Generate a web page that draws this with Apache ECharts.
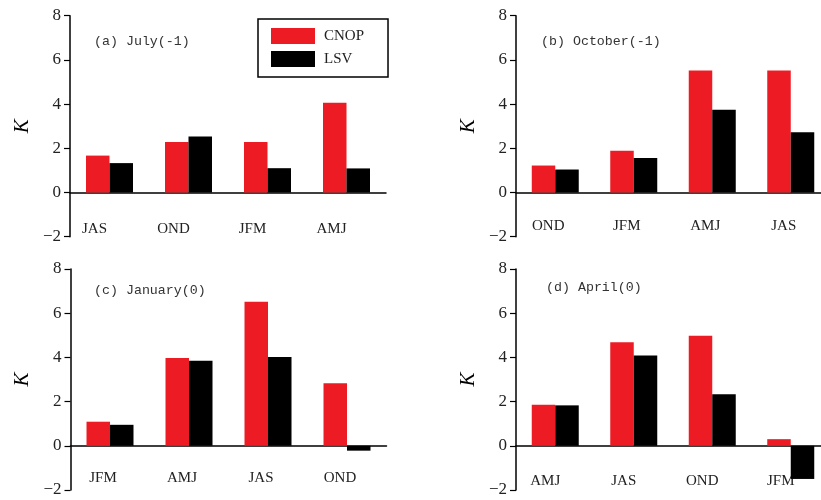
<!DOCTYPE html>
<html>
<head>
<meta charset="utf-8">
<script src="https://cdn.jsdelivr.net/npm/echarts@6/dist/echarts.min.js"></script>
<style>html,body{margin:0;padding:0;background:#fff;}#c{width:821px;height:500px;}</style>
</head>
<body>
<div id="c"></div>
<script>
// Data
const catsA = ['JAS', 'OND', 'JFM', 'AMJ'];
const cnopA = [1.67, 2.28, 2.28, 4.06];
const lsvA  = [1.33, 2.53, 1.10, 1.09];
const catsB = ['OND', 'JFM', 'AMJ', 'JAS'];
const cnopB = [1.22, 1.89, 5.52, 5.52];
const lsvB  = [1.04, 1.56, 3.74, 2.73];
const catsC = ['JFM', 'AMJ', 'JAS', 'OND'];
const cnopC = [1.09, 3.97, 6.52, 2.83];
const lsvC  = [0.95, 3.85, 4.02, -0.22];
const catsD = ['AMJ', 'JAS', 'OND', 'JFM'];
const cnopD = [1.86, 4.68, 4.98, 0.30];
const lsvD  = [1.83, 4.09, 2.33, -1.50];
const panelTitles = ['(a) July(-1)', '(b) October(-1)', '(c) January(0)', '(d) April(0)'];
const seriesNames = ['CNOP', 'LSV'];
const yMin = -2, yMax = 8, yStep = 2;

const panels = [
  {cats: catsA, cnop: cnopA, lsv: lsvA},
  {cats: catsB, cnop: cnopB, lsv: lsvB},
  {cats: catsC, cnop: cnopC, lsv: lsvC},
  {cats: catsD, cnop: cnopD, lsv: lsvD}
];

// Layout (positions kept separate from data)
const GRID_H = 221;
const grids = [
  {left: 70, top: 15.7, width: 316, height: GRID_H, outerBoundsMode: 'none'},
  {left: 516, top: 15.7, width: 314, height: GRID_H, outerBoundsMode: 'none'},
  {left: 70.5, top: 269, width: 316, height: GRID_H, outerBoundsMode: 'none'},
  {left: 516, top: 269, width: 314, height: GRID_H, outerBoundsMode: 'none'}
];
const labelMargin = [29, 26.5, 25, 28];
const labelShift = [15, 7, 7, 10];
const titlePos = [
  {left: 94, top: 35}, {left: 541, top: 35}, {left: 94, top: 284}, {left: 546, top: 281}
];
// x axis sits at value 0: shift it up from the grid bottom by the pixel span of (0 - yMin)
const zeroOffset = -GRID_H * (0 - yMin) / (yMax - yMin);

const RED = '#ED1C24';
const BLACK = '#000000';
const serif = '"Liberation Serif", "Times New Roman", serif';

const xAxes = [], yAxes = [], series = [], titles = [];
panels.forEach((p, i) => {
  xAxes.push({
    type: 'category', gridIndex: i, data: p.cats,
    position: 'bottom', offset: zeroOffset,
    axisLine: {onZero: false, lineStyle: {color: '#000', width: 1.5}},
    axisTick: {alignWithLabel: true, length: 5, lineStyle: {color: '#000', width: 1.2}},
    axisLabel: {
      margin: labelMargin[i], fontFamily: serif, fontSize: 15, color: '#222',
      padding: [0, labelShift[i] * 2, 0, 0]
    },
    splitLine: {show: false}
  });
  yAxes.push({
    type: 'value', gridIndex: i, min: yMin, max: yMax, interval: yStep,
    name: 'K', nameLocation: 'middle', nameRotate: 90, nameGap: 37.5,
    nameTextStyle: {fontFamily: serif, fontStyle: 'italic', fontSize: 21, color: '#000'},
    axisLine: {show: true, lineStyle: {color: '#000', width: 1.5}},
    axisTick: {show: true, length: 6, lineStyle: {color: '#000', width: 1.2}},
    axisLabel: {
      margin: 9, fontFamily: serif, fontSize: 17, color: '#222',
      formatter: v => (v < 0 ? '\u2212' + Math.abs(v) : String(v))
    },
    splitLine: {show: false}
  });
  series.push({
    name: seriesNames[0], type: 'bar', xAxisIndex: i, yAxisIndex: i,
    data: p.cnop, barWidth: 23.5, barGap: '0%',
    itemStyle: {color: RED}
  });
  series.push({
    name: seriesNames[1], type: 'bar', xAxisIndex: i, yAxisIndex: i,
    data: p.lsv, barWidth: 23.5, barGap: '0%',
    itemStyle: {color: BLACK}
  });
  titles.push({
    text: panelTitles[i], left: titlePos[i].left, top: titlePos[i].top, padding: 0,
    textStyle: {fontFamily: '"Liberation Mono", "DejaVu Sans Mono", monospace', fontSize: 13.3, fontWeight: 'normal', color: '#333'}
  });
});

const chart = echarts.init(document.getElementById('c'), null, {renderer: 'canvas'});
chart.setOption({
  animation: false,
  backgroundColor: '#fff',
  title: titles,
  legend: {
    data: seriesNames,
    orient: 'vertical', left: 258, top: 19,
    itemWidth: 44, itemHeight: 16, itemGap: 7,
    padding: [9, 24, 10, 13],
    borderColor: '#000', borderWidth: 1.5,
    icon: 'rect',
    textStyle: {fontFamily: serif, fontSize: 15, color: '#222', padding: [0, 0, 0, 4]}
  },
  grid: grids,
  xAxis: xAxes,
  yAxis: yAxes,
  series: series
});
</script>
</body>
</html>
